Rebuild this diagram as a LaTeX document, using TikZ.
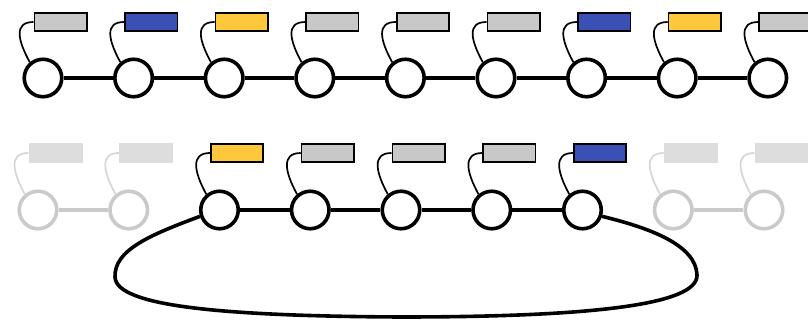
\documentclass[tikz,border=0pt]{standalone}
\definecolor{cgray}{HTML}{C8C8C8}
\definecolor{cblue}{HTML}{3A50B5}
\definecolor{cyell}{HTML}{FFC83C}
\definecolor{fade}{HTML}{CACACA}
\definecolor{fadeline}{HTML}{D6D6D6}
\definecolor{faderect}{HTML}{DDDDDD}
\tikzset{
  bead/.style={circle,draw=black,line width=3.6pt,fill=white,minimum size=37.5pt,inner sep=0pt},
  fbead/.style={bead,draw=fade},
  tag/.style={rectangle,draw=black,line width=1.6pt,minimum width=52.4pt,minimum height=18.4pt,inner sep=0pt},
  ftag/.style={rectangle,draw=none,fill=faderect,minimum width=54pt,minimum height=20pt,inner sep=0pt},
  link/.style={line width=3.6pt},
  flink/.style={line width=3.6pt,draw=fade},
  tether/.style={line width=1.7pt},
  ftether/.style={line width=1.7pt,draw=fadeline},
}
\begin{document}
\begin{tikzpicture}[x=1pt,y=-1pt]
\useasboundingbox (0,0) rectangle (808,320);
% top row
\foreach \i/\c in {0/cgray,1/cblue,2/cyell,3/cgray,4/cgray,5/cgray,6/cblue,7/cyell,8/cgray}{
  \node[bead] (t\i) at ({43+90.6*\i},78) {};
  \node[tag,fill=\c] (tr\i) at ({60.5+90.6*\i},22) {};
  \draw[tether] (tr\i.west) .. controls +(-20,0) and +(-12,-22) .. (t\i.130);
}
\foreach \a/\b in {0/1,1/2,2/3,3/4,4/5,5/6,6/7,7/8}{
  \draw[link] (t\a) -- (t\b);
}
% bottom row
\foreach \i in {0,1,7,8}{
  \node[fbead] (b\i) at ({38+90.75*\i},210) {};
  \node[ftag] (br\i) at ({55.5+90.75*\i},153) {};
  \draw[ftether] (br\i.west) .. controls +(-20,0) and +(-12,-22) .. (b\i.130);
}
\foreach \i/\c in {2/cyell,3/cgray,4/cgray,5/cgray,6/cblue}{
  \node[bead] (b\i) at ({38+90.75*\i},210) {};
  \node[tag,fill=\c] (br\i) at ({55.5+90.75*\i},153) {};
  \draw[tether] (br\i.west) .. controls +(-20,0) and +(-12,-22) .. (b\i.130);
}
\draw[flink] (b0) -- (b1);
\draw[flink] (b7) -- (b8);
\foreach \a/\b in {2/3,3/4,4/5,5/6}{
  \draw[link] (b\a) -- (b\b);
}
\coordinate (lft) at (115,277);
\coordinate (bot) at (400,317);
\coordinate (rgt) at (697,275);
\draw[link] (b2.198) .. controls (150,235) and (114,250) .. (lft)
  .. controls (116,306) and (220,316) .. (bot)
  .. controls (590,317) and (698,305) .. (rgt)
  .. controls (696,245) and (650,228) .. (b6.-18);
\end{tikzpicture}
\end{document}
